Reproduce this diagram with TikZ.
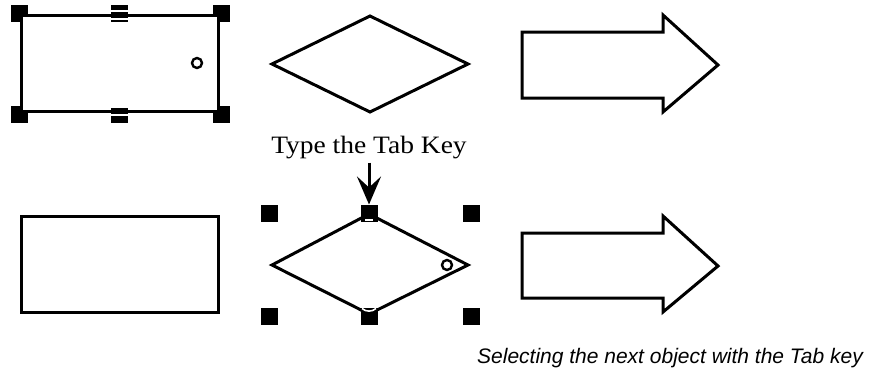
\documentclass[tikz,border=0pt]{standalone}
\usepackage{fontspec}
\setmainfont{Liberation Serif}
\setsansfont{Liberation Sans}
\usetikzlibrary{arrows.meta}
\begin{document}
\begin{tikzpicture}[x=1pt,y=-1pt,
  handle/.style={fill=black,minimum size=17pt,inner sep=0pt,outer sep=0pt},
  shapeline/.style={draw=black,line width=3pt,line join=miter},
  whitepatch/.style={fill=white,draw=none},
  whitestripe/.style={draw=white,line width=1.6pt},
  selcircle/.style={draw=black,fill=white,line width=2.4pt},
  tabarrow/.style={line width=3pt,-{Stealth[length=28pt,width=24pt,inset=11pt]}},
  labeltext/.style={font=\fontsize{25}{28}\selectfont,inner sep=0pt},
  captiontext/.style={font=\sffamily\itshape\fontsize{21}{24}\selectfont,inner sep=0pt}]
\useasboundingbox (0,0) rectangle (876,372);
% ---------- top row ----------
% handles of the selected rectangle
\node[handle] (ta) at (19,13) {};
\node[handle] (tb) at (119,13) {};
\node[handle] (tc) at (221,13) {};
\node[handle] (td) at (19,114.5) {};
\node[handle] (te) at (119,114.5) {};
\node[handle] (tf) at (221,114.5) {};
\fill[whitepatch] (22.5,16.5) rectangle (27.5,21.5);
\fill[whitepatch] (212.5,16.5) rectangle (216.5,21.5);
\fill[whitepatch] (22.5,106) rectangle (27.5,109.5);
\fill[whitepatch] (212.5,106) rectangle (216.5,109.5);
\draw[whitestripe] (110.5,11) -- (127.5,11);
\draw[whitestripe] (110.5,19) -- (127.5,19);
\draw[whitestripe] (110.5,107) -- (127.5,107);
\draw[whitestripe] (110.5,115) -- (127.5,115);
\node[shapeline,minimum width=197pt,minimum height=96pt,inner sep=0pt] (rect1) at (119.5,63) {};
\node[selcircle,circle,minimum size=10pt,inner sep=0pt] (c1) at (197,63) {};
% diamond
\coordinate (d1l) at (272,64);
\coordinate (d1t) at (370,16);
\coordinate (d1r) at (468,64);
\coordinate (d1b) at (370,112);
\draw[shapeline] (d1l) -- (d1t) -- (d1r) -- (d1b) -- cycle;
% block arrow
\draw[shapeline] (522,32) -- (663,32) -- (663,15) -- (718,65) -- (663,112) -- (663,98) -- (522,98) -- cycle;
% ---------- label + arrow ----------
\node[labeltext,anchor=base] (lbl) at (369,153) {\scalebox{1.1}[1]{Type the Tab Key}};
% ---------- bottom row ----------
\node[shapeline,minimum width=197pt,minimum height=96pt,inner sep=0pt] (rect2) at (119.5,264) {};
% handles of the selected diamond
\node[handle] (ba) at (269,213) {};
\node[handle] (bb) at (369,213) {};
\node[handle] (bc) at (471,213) {};
\node[handle] (bd) at (269,316) {};
\node[handle] (be) at (369,316) {};
\node[handle] (bf) at (471,316) {};
\coordinate (d2l) at (272,265);
\coordinate (d2t) at (369,214);
\coordinate (d2r) at (468,265);
\coordinate (d2b) at (369,314);
\draw[shapeline] (d2l) -- (d2t) -- (d2r) -- (d2b) -- cycle;
\draw[whitestripe] (365,220) -- (373,220);
\draw[whitestripe] (362,308.5) .. controls (366,312) and (372,312) .. (376,308.5);
\node[selcircle,circle,minimum size=10pt,inner sep=0pt] (c2) at (447,265) {};
\draw[tabarrow,shorten <=4pt] (lbl.south) -- (bb.north);
% block arrow
\draw[shapeline] (522,233) -- (663,233) -- (663,216) -- (718,266) -- (663,312) -- (663,298) -- (522,298) -- cycle;
% caption
\node[captiontext,anchor=base east] (cap) at (863,363) {Selecting the next object with the Tab key};
\end{tikzpicture}
\end{document}
